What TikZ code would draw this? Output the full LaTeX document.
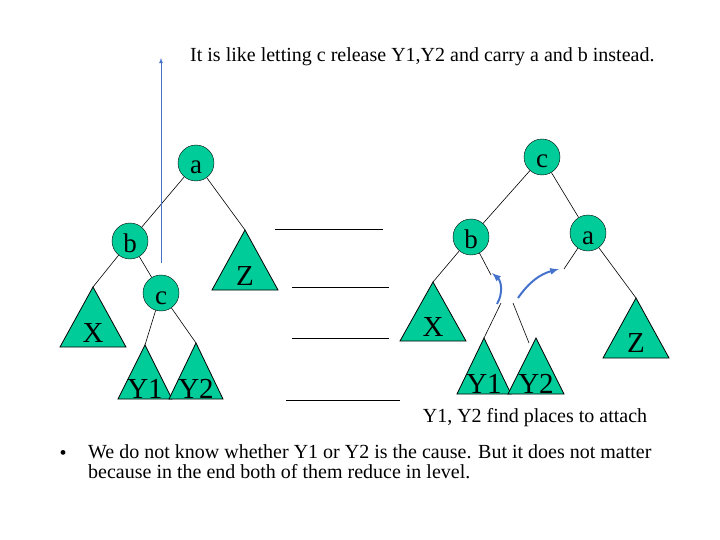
\documentclass[tikz,border=0pt]{standalone}
\usepackage{fontspec}
\setmainfont{Liberation Serif}
\usetikzlibrary{arrows,calc}
\definecolor{NodeClr}{rgb}{0,0.8,0.6}
\definecolor{MoveClr}{rgb}{0.27,0.45,0.8}

\begin{document}
\begin{tikzpicture}[x=1pt,y=-1pt,
  key/.style={circle,draw=black,fill=NodeClr,minimum size=36pt,inner sep=0pt,
    text height=22pt,text depth=0pt,font=\fontsize{27}{27}\selectfont},
  tri/.style={draw=black,fill=NodeClr,line width=.8pt},
  trilbl/.style={inner sep=0pt,font=\fontsize{29}{29}\selectfont},
  link/.style={line width=.6pt},
  blank/.style={line width=1pt},
  relink/.style={draw=MoveClr,line width=2pt,-latex}]
\useasboundingbox (0,0) rectangle (720,540);

\node[anchor=west,inner sep=0pt,font=\fontsize{20}{20}\selectfont] (title) at (190,57) {It is like letting c release Y1,Y2 and carry a and b instead.};

% subtrees: name/apex x/apex y/half width/height/label lift/label
\foreach \n/\x/\y/\w/\h/\d/\t in {LX/93/287/33/60/5/X, LYa/145/345/27/54/1/Y1, LYb/196/343/27/56/1/Y2, LZ/245/230/33/60/5/Z,
    RX/433/282/33/59/5/X, RYa/484/338/27/56/1/Y1, RYb/536/338/28/56/1/Y2, RZ/636/298/33/60/6/Z}{
  \draw[tri] (\x,\y) coordinate (\n) -- ++(-\w,\h) -- ++(2*\w,0) -- cycle;
  \node[trilbl,anchor=base] at (\x,\y+\h-\d) {\t};
}

% before
\node[key] (la) at (196,163) {a};
\node[key] (lb) at (130,241) {b};
\node[key] (lc) at (161,293) {c};
\draw[link] (la) -- (lb);
\draw[link] (la) -- (LZ);
\draw[link] (lb) -- (LX);
\draw[link] (lb) -- (lc);
\draw[link] (lc) -- (LYa);
\draw[link] (lc) -- (LYb);

\coordinate (lift) at (161,263);
\coordinate (top) at (161,58);
\draw[relink,line width=.8pt] (lift) -- (top);

% blanks to fill in
\draw[blank] (275,230) -- (383,230);
\draw[blank] (292,287) -- (389,287);
\draw[blank] (292,338) -- (389,338);
\draw[blank] (286,400) -- (400,400);

% after
\node[key] (rc) at (542,157) {c};
\node[key] (rb) at (471,237) {b};
\node[key] (ra) at (588,233) {a};
\coordinate (rbs) at (491,275);
\coordinate (ras) at (564,269);
\coordinate (rYas) at (501,303);
\coordinate (rYbs) at (513,303);
\coordinate (rYbe) at (529,343);
\draw[link] (rc) -- (rb);
\draw[link] (rc) -- (ra);
\draw[link] (rb) -- (RX);
\draw[link] (rb) -- (rbs);
\draw[link] (ra) -- (ras);
\draw[link] (ra) -- (RZ);
\draw[link] (rYas) -- (RYa);
\draw[link] (rYbs) -- (rYbe);

\coordinate (m1) at (497,304);
\coordinate (m1e) at (492,273);
\coordinate (m2) at (518,298);
\coordinate (m2e) at (559,269);
\draw[relink] (m1) to[bend right=40] (m1e);
\draw[relink] (m2) to[bend left=20] (m2e);

\node[font=\fontsize{20}{20}\selectfont] (note) at (535,418) {Y1, Y2 find places to attach};

\node[anchor=base,inner sep=0pt,font=\fontsize{20}{20}\selectfont] (dot) at (63,459) {\textbullet};
\node[anchor=north west,inner sep=0pt,align=left,font=\fontsize{20}{20}\selectfont] (body) at (88,444)
  {We do not know whether Y1 or Y2 is the cause. But it does not matter\\because in the end both of them reduce in level.};
\end{tikzpicture}
\end{document}
